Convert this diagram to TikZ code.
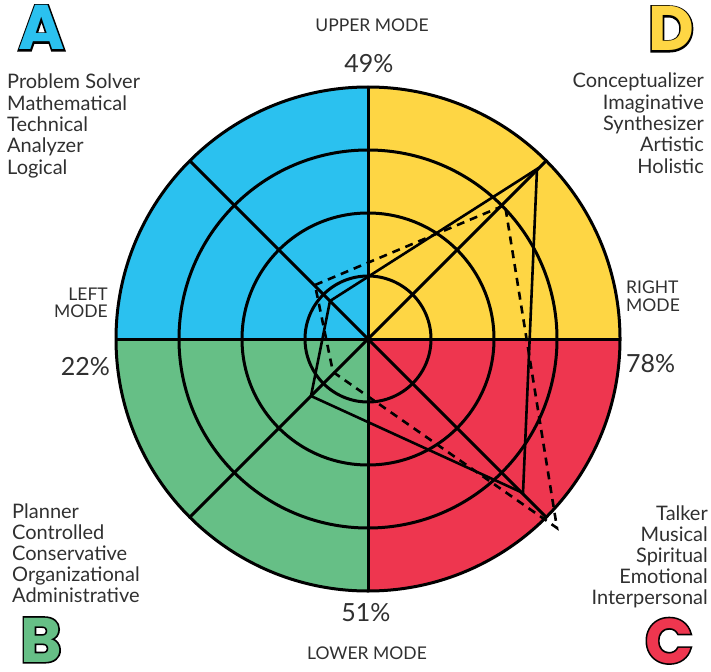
\documentclass[tikz,border=0pt]{standalone}
\usepackage{fontspec}
\setmainfont{Lato}
\newfontfamily\letfont{Poppins}
\newfontfamily\letol{Poppins}[BoldFeatures={FakeBold=5}]
\usetikzlibrary{calc}
\definecolor{cblue}{HTML}{2BC1EF}
\definecolor{cyellow}{HTML}{FED644}
\definecolor{cred}{HTML}{EE364F}
\definecolor{cgreen}{HTML}{66BF86}
\definecolor{txt}{HTML}{303030}
\newcommand\outlet[2]{%
  \leavevmode\rlap{\letol\bfseries\color{black}#2}\textcolor{#1}{#2}}
\begin{document}
\begin{tikzpicture}[x=1pt,y=-1pt,
  lbl/.style={inner sep=0, text=txt, font=\fontsize{20}{24}\selectfont},
  modelbl/.style={inner sep=0, text=txt, font=\fontsize{17.5}{20}\selectfont},
  pct/.style={inner sep=0, text=txt, font=\fontsize{25}{28}\selectfont},
  bigl/.style={inner sep=0, anchor=base, font=\letfont\bfseries\fontsize{63}{63}\selectfont},
  ring/.style={line width=3pt},
  prof/.style={line width=2.6pt, line join=miter},
  dprof/.style={prof, dash pattern=on 8pt off 6pt}]
\useasboundingbox (0,0) rectangle (711,671);
\coordinate (O) at (368,339);
% quadrants
\fill[cblue] (O) -- ++(90:252pt) arc (90:180:252pt) -- cycle;
\fill[cyellow] (O) -- ++(0:252pt) arc (0:90:252pt) -- cycle;
\fill[cred] (O) -- ++(270:252pt) arc (270:360:252pt) -- cycle;
\fill[cgreen] (O) -- ++(180:252pt) arc (180:270:252pt) -- cycle;
% rings and axes
\foreach \r in {63,126,189,252} \draw[ring] (O) circle (\r pt);
\draw[ring] ($(O)+(0:252pt)$) -- ($(O)+(180:252pt)$);
\draw[ring] ($(O)+(90:252pt)$) -- ($(O)+(270:252pt)$);
\draw[ring] ($(O)+(45:252pt)$) -- ($(O)+(225:252pt)$);
\draw[ring] ($(O)+(135:252pt)$) -- ($(O)+(315:252pt)$);
% profiles
\coordinate (pA) at (330,301);
\coordinate (pD) at (537,169);
\coordinate (pC) at (523,493);
\coordinate (pB) at (311,396);
\draw[prof] (pA) -- (pD) -- (pC) -- (pB) -- cycle;
\coordinate (qA) at (315,285);
\coordinate (qD) at (505,205);
\coordinate (qC) at (557,528);
\coordinate (qB) at (333,372);
\draw[dprof] (qA) -- (qD) -- (qC) -- (qB) -- cycle;
% letters
\node[bigl] (LA) at (41.5,50) {\outlet{cblue}{A}};
\node[bigl] (LD) at (671,51) {\outlet{cyellow}{D}};
\node[bigl] (LB) at (41,662) {\outlet{cgreen}{B}};
\node[bigl] (LC) at (669,663) {\outlet{cred}{C}};
% lists
\foreach \t [count=\i] in {Problem Solver,Mathematical,Technical,Analyzer,Logical}
  \node[lbl, anchor=base west] (a\i) at (7,{89+21.3*(\i-1)}) {\t};
\foreach \t [count=\i] in {Conceptualizer,Imaginative,Synthesizer,Artistic,Holistic}
  \node[lbl, anchor=base east] (d\i) at (704,{88+21.3*(\i-1)}) {\t};
\foreach \t [count=\i] in {Planner,Controlled,Conservative,Organizational,Administrative}
  \node[lbl, anchor=base west] (b\i) at (12,{518+21*(\i-1)}) {\t};
\foreach \t [count=\i] in {Talker,Musical,Spiritual,Emotional,Interpersonal}
  \node[lbl, anchor=base east] (c\i) at (708,{520+21*(\i-1)}) {\t};
% mode labels
\node[modelbl, anchor=base] (up) at (372,32) {UPPER MODE};
\node[pct, anchor=base] (p49) at (369,73) {49\%};
\node[modelbl, anchor=base] (lo) at (367,659) {LOWER MODE};
\node[pct, anchor=base] (p51) at (366,621) {51\%};
\node[modelbl, anchor=base east] (lf1) at (108,300) {LEFT};
\node[modelbl, anchor=base east] (lf2) at (108,317.5) {MODE};
\node[pct, anchor=base east] (p22) at (110,375) {22\%};
\node[modelbl, anchor=base west] (rt1) at (626,293) {RIGHT};
\node[modelbl, anchor=base west] (rt2) at (626,311.5) {MODE};
\node[pct, anchor=base west] (p78) at (626,372) {78\%};
\end{tikzpicture}
\end{document}
